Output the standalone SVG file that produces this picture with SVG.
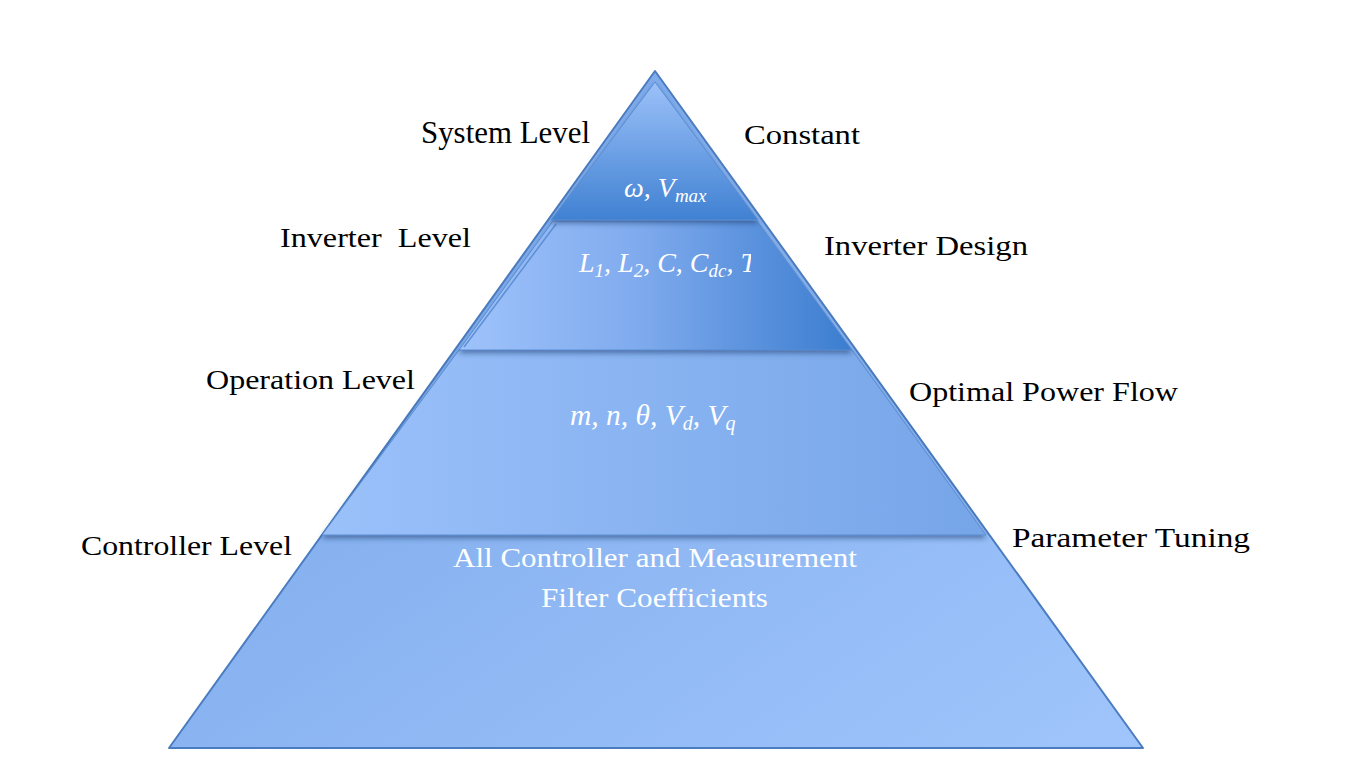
<svg xmlns="http://www.w3.org/2000/svg" width="1351" height="781" viewBox="0 0 1351 781">
<defs>
<style>
.lbl{font-family:"Liberation Serif","DejaVu Serif",serif;font-size:27px;fill:#000}
.wt{font-family:"Liberation Serif","DejaVu Serif",serif;font-size:27px;fill:#fff}
.mt{font-family:"Liberation Serif","DejaVu Serif",serif;font-style:italic;font-size:28px;fill:#fff}
.sub{font-size:19px}
.edge{stroke:#4a7cbf;stroke-width:2;stroke-linejoin:round}
</style>
<linearGradient id="gBase" x1="0" y1="0" x2="1" y2="1">
<stop offset="0" stop-color="#74a3e6"/>
<stop offset="1" stop-color="#a0c5fc"/>
</linearGradient>
<linearGradient id="gOp" x1="0" y1="0" x2="1" y2="0">
<stop offset="0" stop-color="#9bc1fa"/>
<stop offset="1" stop-color="#76a5e8"/>
</linearGradient>
<linearGradient id="gInv" x1="0" y1="0" x2="1" y2="0">
<stop offset="0" stop-color="#9fc3fb"/>
<stop offset="0.45" stop-color="#80abee"/>
<stop offset="1" stop-color="#3b7dcf"/>
</linearGradient>
<linearGradient id="gSys" x1="0" y1="0" x2="0" y2="1">
<stop offset="0" stop-color="#9cc1f9"/>
<stop offset="1" stop-color="#4081d2"/>
</linearGradient>
<filter id="sh" x="-10%" y="-10%" width="120%" height="130%">
<feDropShadow dx="0" dy="3" stdDeviation="2.5" flood-color="#1f3f70" flood-opacity="0.55"/>
</filter>
<clipPath id="clipT"><rect x="450" y="220" width="301" height="130"/></clipPath>
</defs>

<g id="base-layer">
<polygon points="655,71 1143,748 169,748" fill="url(#gBase)" class="edge"/>
</g>

<g id="operation-layer" filter="url(#sh)">
<polygon points="459,350 852,350 986,535 322,535" fill="url(#gOp)" stroke="#5a8cd0" stroke-width="1"/>
</g>

<g id="inverter-layer" filter="url(#sh)">
<polygon points="553,221 757,221 852,350 459,350" fill="url(#gInv)" stroke="#5a8cd0" stroke-width="1"/>
<line x1="556" y1="224" x2="464" y2="347" stroke="#5c8fd4" stroke-width="1.5"/>
</g>

<g id="system-layer" filter="url(#sh)">
<polygon points="655,82 758,220 551,220" fill="url(#gSys)" stroke="#5a8cd0" stroke-width="1"/>
</g>

<g id="connectors"></g>

<g id="labels">
<text class="lbl" x="421" y="143" textLength="169" lengthAdjust="spacingAndGlyphs" style="font-size:31px">System Level</text>
<text class="lbl" x="744" y="144" textLength="116" lengthAdjust="spacingAndGlyphs">Constant</text>
<text class="lbl" x="280" y="247" textLength="191" lengthAdjust="spacingAndGlyphs" xml:space="preserve">Inverter  Level</text>
<text class="lbl" x="824" y="255" textLength="204" lengthAdjust="spacingAndGlyphs">Inverter Design</text>
<text class="lbl" x="206" y="389" textLength="209" lengthAdjust="spacingAndGlyphs">Operation Level</text>
<text class="lbl" x="909" y="401" textLength="269" lengthAdjust="spacingAndGlyphs">Optimal Power Flow</text>
<text class="lbl" x="81" y="555" textLength="211" lengthAdjust="spacingAndGlyphs">Controller Level</text>
<text class="lbl" x="1012" y="547" textLength="238" lengthAdjust="spacingAndGlyphs">Parameter Tuning</text>
</g>

<g id="layer-contents">
<text class="mt" x="624" y="197">ω, V<tspan class="sub" dy="5">max</tspan></text>
<g clip-path="url(#clipT)">
<text class="mt" x="579" y="272">L<tspan class="sub" dy="5">1</tspan><tspan dy="-5">, L</tspan><tspan class="sub" dy="5">2</tspan><tspan dy="-5">, C, C</tspan><tspan class="sub" dy="5">dc</tspan><tspan dy="-5">, T</tspan><tspan class="sub" dy="5">c</tspan></text>
</g>
<text class="mt" x="570" y="425" style="font-size:29.5px">m, n, θ, V<tspan class="sub" dy="5" style="font-size:20px">d</tspan><tspan dy="-5">, V</tspan><tspan class="sub" dy="5" style="font-size:20px">q</tspan></text>
<text class="wt" x="453" y="567" textLength="404" lengthAdjust="spacingAndGlyphs">All Controller and Measurement</text>
<text class="wt" x="541" y="607" textLength="227" lengthAdjust="spacingAndGlyphs">Filter Coefficients</text>
</g>
</svg>
